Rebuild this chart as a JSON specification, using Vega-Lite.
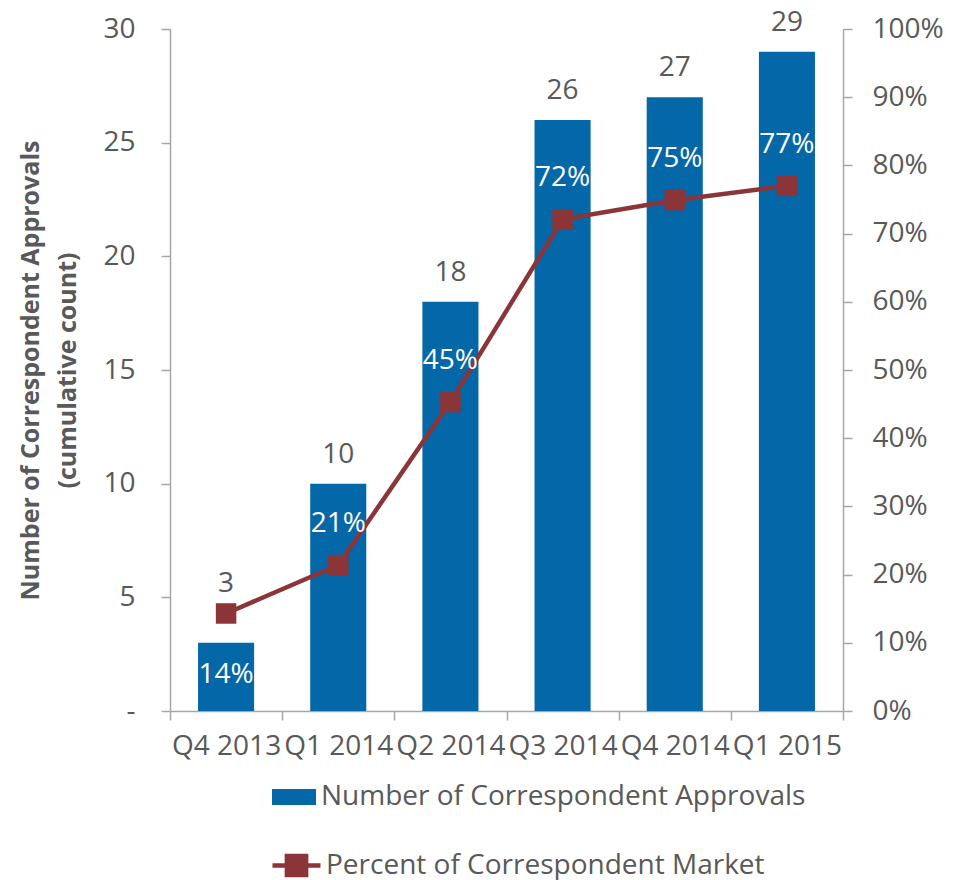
{
  "$schema": "https://vega.github.io/schema/vega-lite/v6.json",
  "width": 673,
  "height": 682,
  "autosize": "none",
  "padding": {"left": 170, "top": 29, "right": 110, "bottom": 169},
  "background": "white",
  "config": {
    "font": "Open Sans",
    "view": {"stroke": null},
    "axis": {"labelColor": "#595959", "labelFontSize": 28, "domainColor": "#A6A6A6", "tickColor": "#A6A6A6", "domainWidth": 1.5, "tickWidth": 1.5, "tickSize": 9, "grid": false, "titleColor": "#595959"}
  },
  "data": {"values": [
    {"quarter": "Q4 2013", "count": 3, "pct": 0.143},
    {"quarter": "Q1 2014", "count": 10, "pct": 0.214},
    {"quarter": "Q2 2014", "count": 18, "pct": 0.453},
    {"quarter": "Q3 2014", "count": 26, "pct": 0.721},
    {"quarter": "Q4 2014", "count": 27, "pct": 0.749},
    {"quarter": "Q1 2015", "count": 29, "pct": 0.770}
  ]},
  "encoding": {
    "x": {"field": "quarter", "type": "nominal", "sort": null,
      "scale": {"paddingInner": 0, "paddingOuter": 0},
      "axis": {"title": null, "labelAngle": 0, "tickBand": "extent", "labelOverlap": false, "labelPadding": 12, "labelLimit": 0}}
  },
  "layer": [
    {
      "layer": [
        {
          "mark": {"type": "bar", "width": {"band": 0.5}},
          "encoding": {
            "y": {"field": "count", "type": "quantitative", "scale": {"domain": [0, 30], "nice": false},
              "axis": {"values": [0, 5, 10, 15, 20, 25, 30], "labelExpr": "datum.value === 0 ? '-' : datum.label",
                "labelPadding": 26, "title": ["Number of Correspondent Approvals", "(cumulative count)"],
                "titleFontSize": 25, "titleFontWeight": "bold", "titleLineHeight": 37, "titlePadding": 22}},
            "fill": {"datum": "Number of Correspondent Approvals", "type": "nominal",
              "scale": {"range": ["#0467A8"]},
              "legend": {"title": null, "orient": "none", "legendX": 102, "legendY": 746, "padding": 0,
                "symbolType": "M-1,-0.36H1V0.36H-1Z", "symbolSize": 1936, "symbolStrokeWidth": 0,
                "labelFontSize": 28, "labelColor": "#595959", "labelOffset": 5, "labelLimit": 0}}
          }
        },
        {
          "transform": [{"filter": "datum.quarter !== 'Q4 2013'"}],
          "mark": {"type": "text", "baseline": "alphabetic", "dy": -21, "fontSize": 28, "color": "#595959"},
          "encoding": {
            "y": {"field": "count", "type": "quantitative"},
            "text": {"field": "count", "type": "quantitative"}
          }
        },
        {
          "transform": [{"filter": "datum.quarter === 'Q4 2013'"}],
          "mark": {"type": "text", "baseline": "alphabetic", "dy": -51, "fontSize": 28, "color": "#595959"},
          "encoding": {
            "y": {"field": "count", "type": "quantitative"},
            "text": {"field": "count", "type": "quantitative"}
          }
        }
      ]
    },
    {
      "layer": [
        {
          "mark": {"type": "line", "strokeWidth": 4.5},
          "encoding": {
            "y": {"field": "pct", "type": "quantitative", "scale": {"domain": [0, 1], "nice": false},
              "axis": {"orient": "right", "values": [0, 0.1, 0.2, 0.3, 0.4, 0.5, 0.6, 0.7, 0.8, 0.9, 1], "format": ".0%", "labelPadding": 20, "title": null}},
            "stroke": {"datum": "Percent of Correspondent Market", "type": "nominal",
              "scale": {"range": ["#8B3538"]},
              "legend": {"title": null, "orient": "none", "legendX": 100, "legendY": 810, "padding": 0,
                "symbolType": "M-1,0H1M-0.4,-0.4H0.4V0.4H-0.4Z", "symbolSize": 2304, "symbolStrokeWidth": 4.5,
                "labelFontSize": 28, "labelColor": "#595959", "labelOffset": 3, "labelLimit": 0,
                "encode": {"symbols": {"update": {"fill": {"value": "#8B3538"}, "stroke": {"value": "#8B3538"}}}}}}
          }
        },
        {
          "mark": {"type": "point", "shape": "square", "size": 420, "filled": true, "opacity": 1, "color": "#8B3538"},
          "encoding": {"y": {"field": "pct", "type": "quantitative"}}
        },
        {
          "transform": [{"filter": "datum.quarter !== 'Q4 2013'"}],
          "mark": {"type": "text", "baseline": "alphabetic", "dy": -33, "fontSize": 28, "color": "white"},
          "encoding": {
            "y": {"field": "pct", "type": "quantitative"},
            "text": {"field": "pct", "type": "quantitative", "format": ".0%"}
          }
        },
        {
          "transform": [{"filter": "datum.quarter === 'Q4 2013'"}],
          "mark": {"type": "text", "baseline": "alphabetic", "dy": 70, "fontSize": 28, "color": "white"},
          "encoding": {
            "y": {"field": "pct", "type": "quantitative"},
            "text": {"field": "pct", "type": "quantitative", "format": ".0%"}
          }
        }
      ]
    }
  ],
  "resolve": {"scale": {"y": "independent"}}
}
